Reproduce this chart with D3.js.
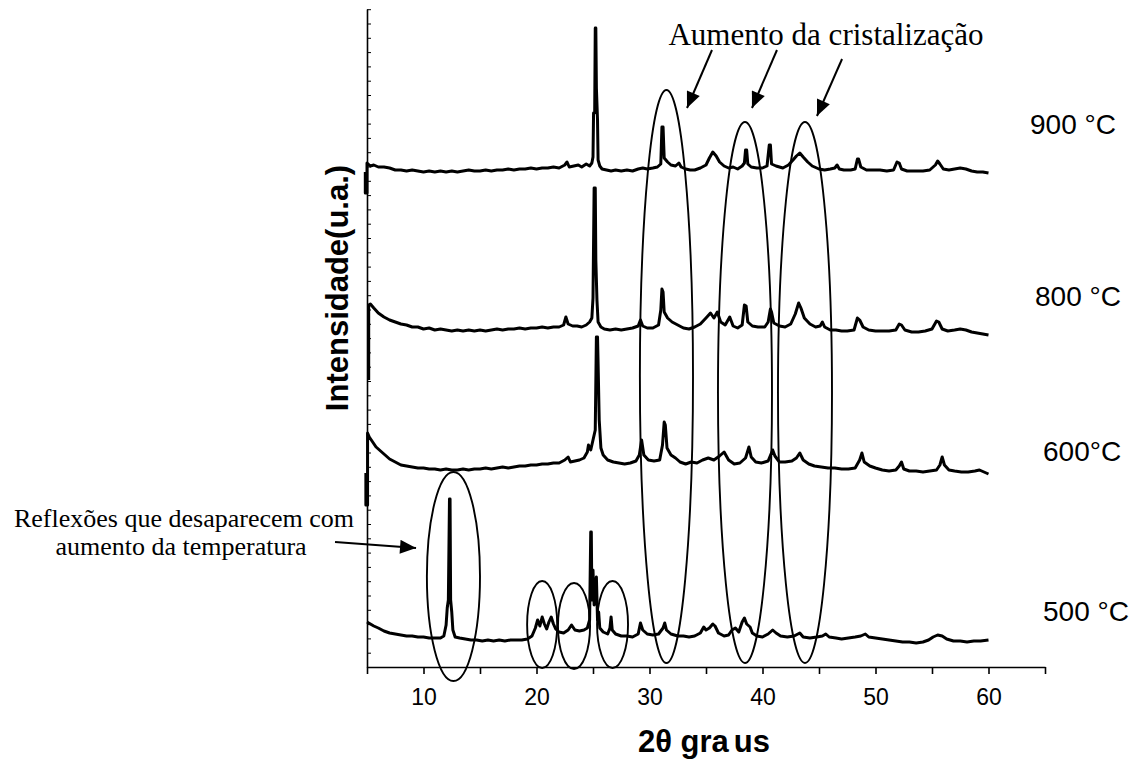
<!DOCTYPE html>
<html>
<head>
<meta charset="utf-8">
<script src="https://cdn.jsdelivr.net/npm/d3@7"></script>
<style>
  body { margin: 0; background: #fff; }
  svg { display: block; }
</style>
</head>
<body>
<svg width="1137" height="760"></svg>
<script>
// 2θ (graus) vs intensidade (u.a.), one array per temperature
var xrd500 = [[5.0,450],[5.3,430],[5.6,410],[6.0,390],[6.5,360],[7.0,340],[7.5,330],[8.0,320],[8.5,310],[9,310],[9.5,300],[10,300],[10.5,290],[11,290],[11.5,290],[11.8,310],[12.0,420],[12.1,590],[12.2,670],[12.3,1680],[12.35,1680],[12.4,670],[12.5,550],[12.6,370],[12.8,300],[13.2,290],[13.7,280],[14.2,270],[14.7,270],[15.2,260],[15.7,270],[16.2,260],[16.7,270],[17.2,260],[17.7,270],[18.2,270],[18.7,270],[19.2,280],[19.6,310],[19.9,390],[20.1,470],[20.3,410],[20.5,500],[20.7,430],[20.9,380],[21.1,450],[21.3,500],[21.5,430],[21.7,380],[22.0,350],[22.4,340],[22.8,370],[23.1,420],[23.4,370],[23.8,360],[24.2,370],[24.5,390],[24.7,470],[24.8,1350],[24.85,1350],[24.9,670],[25.0,970],[25.1,620],[25.2,820],[25.3,900],[25.4,470],[25.5,550],[25.6,390],[25.9,350],[26.3,330],[26.5,390],[26.6,500],[26.7,370],[27.0,330],[27.5,310],[28,310],[28.5,300],[29.0,330],[29.2,440],[29.4,370],[29.8,330],[30.3,320],[30.8,330],[31.2,390],[31.35,440],[31.5,370],[31.9,330],[32.5,310],[33,310],[33.5,300],[34,310],[34.5,340],[34.8,400],[35.0,370],[35.3,390],[35.6,430],[35.8,410],[36.1,340],[36.6,310],[37.0,320],[37.3,370],[37.6,390],[37.9,350],[38.2,450],[38.4,490],[38.6,430],[38.9,400],[39.1,340],[39.5,310],[40,300],[40.5,330],[40.9,370],[41.2,340],[41.6,310],[42.2,300],[42.8,310],[43.3,340],[43.6,300],[44.2,290],[44.8,300],[45.3,310],[45.6,330],[45.9,300],[46.5,290],[47,280],[47.6,290],[48.2,300],[48.7,310],[49.1,330],[49.4,300],[50,290],[50.6,280],[51.2,270],[51.8,260],[52.4,250],[53,250],[53.6,240],[54.2,250],[54.7,270],[55.1,300],[55.5,320],[55.9,310],[56.3,280],[56.9,260],[57.5,260],[58.1,250],[58.7,260],[59.3,260],[60,270]];

var xrd600 = [[4.9,340],[4.9,20],[5.05,20],[5.05,740],[5.2,700],[5.5,650],[5.8,600],[6.2,560],[6.6,520],[7.0,480],[7.5,450],[8.0,420],[8.5,410],[9,400],[9.5,390],[10,390],[10.5,380],[11,380],[11.5,370],[12,380],[12.5,370],[13,370],[13.5,380],[14,370],[14.5,380],[15,380],[15.5,390],[16,380],[16.5,390],[17,400],[17.5,390],[18,400],[18.5,410],[19,410],[19.5,420],[20,420],[20.5,430],[21,430],[21.5,440],[22,440],[22.5,470],[22.8,500],[23.0,450],[23.4,460],[23.8,470],[24.2,490],[24.5,550],[24.6,620],[24.8,570],[25.0,670],[25.2,770],[25.3,1700],[25.4,1700],[25.45,1440],[25.55,870],[25.7,590],[25.9,520],[26.3,470],[26.8,450],[27.3,440],[27.8,430],[28.3,440],[28.8,460],[29.1,520],[29.3,670],[29.5,520],[29.9,470],[30.4,460],[30.9,470],[31.15,620],[31.3,850],[31.4,820],[31.55,590],[31.9,520],[32.3,490],[32.7,450],[33.2,430],[33.7,450],[34.2,440],[34.7,470],[35.2,490],[35.7,470],[36.2,510],[36.6,550],[37.0,470],[37.5,430],[38.0,440],[38.5,490],[38.8,600],[39.0,500],[39.4,450],[39.9,440],[40.5,460],[40.9,570],[41.1,510],[41.5,450],[42.0,450],[42.6,460],[43.0,490],[43.3,540],[43.6,470],[44.1,430],[44.6,410],[45.2,400],[45.8,390],[46.4,390],[47,380],[47.6,380],[48.2,390],[48.6,470],[48.8,540],[49.0,450],[49.5,410],[50,390],[50.6,370],[51.2,360],[51.8,370],[52.1,410],[52.3,450],[52.5,380],[53,360],[53.6,360],[54.2,350],[54.8,360],[55.4,370],[55.7,420],[55.9,500],[56.1,420],[56.5,370],[57,360],[57.6,350],[58.2,350],[58.8,360],[59.2,370],[59.6,350],[60,330]];

var xrd800 = [[5.15,-130],[5.15,620],[5.3,630],[5.6,590],[6.0,540],[6.5,500],[7.0,470],[7.5,450],[8.0,430],[8.5,420],[9,400],[9.5,400],[10,380],[10.5,390],[11,370],[11.5,380],[12,370],[12.5,360],[13,370],[13.5,360],[14,370],[14.5,360],[15,370],[15.5,360],[16,370],[16.5,380],[17,370],[17.5,380],[18,380],[18.5,390],[19,380],[19.5,390],[20,390],[20.5,400],[21,390],[21.5,400],[22,400],[22.4,420],[22.6,500],[22.8,430],[23.2,410],[23.6,410],[24,400],[24.4,420],[24.7,450],[24.9,490],[25.0,690],[25.1,1790],[25.2,1790],[25.25,1070],[25.35,670],[25.45,450],[25.7,400],[26,380],[26.5,370],[27,380],[27.5,370],[28,380],[28.5,390],[29,410],[29.2,470],[29.4,410],[29.8,390],[30.3,390],[30.8,420],[31.0,570],[31.1,780],[31.2,750],[31.3,550],[31.6,490],[32,450],[32.5,420],[33,390],[33.5,380],[34,400],[34.5,430],[35.0,490],[35.4,540],[35.7,490],[36.0,550],[36.3,450],[36.7,420],[37.1,500],[37.4,410],[37.8,390],[38.2,420],[38.4,620],[38.55,610],[38.7,450],[39.1,410],[39.6,400],[40.2,400],[40.5,450],[40.7,580],[40.8,550],[41.0,440],[41.5,410],[42,400],[42.5,430],[42.9,530],[43.2,640],[43.4,590],[43.7,490],[44.2,430],[44.7,400],[45.1,410],[45.3,450],[45.5,400],[46,370],[46.5,370],[47,360],[47.5,360],[48.1,370],[48.4,490],[48.6,470],[48.9,400],[49.4,370],[50,360],[50.6,360],[51.2,360],[51.8,370],[52.1,430],[52.3,420],[52.6,370],[53.2,350],[53.8,350],[54.4,360],[55.0,380],[55.4,460],[55.6,450],[55.9,380],[56.4,360],[57,370],[57.5,380],[58,370],[58.5,350],[59,340],[59.5,330],[60,320]];

var xrd900 = [[4.85,450],[4.85,240],[5.0,240],[5.0,540],[5.3,510],[5.6,520],[6.0,500],[6.5,500],[7.0,490],[7.5,470],[8.0,470],[8.5,460],[9,470],[9.5,460],[10,450],[10.5,460],[11,450],[11.5,460],[12,450],[12.5,460],[13,450],[13.5,460],[14,470],[14.5,460],[15,460],[15.5,470],[16,460],[16.5,470],[17,470],[17.5,480],[18,470],[18.5,480],[19,480],[19.5,490],[20,480],[20.5,490],[21,490],[21.5,500],[22,490],[22.5,520],[22.7,550],[22.9,500],[23.3,510],[23.7,520],[24.0,500],[24.4,530],[24.7,510],[24.9,540],[25.0,600],[25.05,1040],[25.15,1040],[25.2,1890],[25.25,1890],[25.3,1290],[25.4,970],[25.45,570],[25.6,510],[25.8,480],[26.2,470],[26.6,460],[27,470],[27.5,460],[28,470],[28.5,460],[29,480],[29.4,490],[29.8,480],[30.3,490],[30.7,500],[31.0,530],[31.1,900],[31.2,900],[31.3,590],[31.6,550],[31.9,520],[32.3,510],[32.6,540],[32.8,500],[33.2,480],[33.6,470],[34,470],[34.5,490],[35,520],[35.3,590],[35.6,650],[35.9,610],[36.2,550],[36.6,510],[37,490],[37.4,500],[37.8,480],[38.2,510],[38.4,540],[38.5,670],[38.6,670],[38.7,530],[39.0,500],[39.5,490],[40,490],[40.4,510],[40.6,720],[40.7,720],[40.8,530],[41.2,510],[41.8,490],[42.3,520],[42.7,570],[43.0,610],[43.3,640],[43.6,600],[44.0,550],[44.4,510],[45,480],[45.5,470],[46,480],[46.4,490],[46.6,520],[46.8,480],[47.2,470],[47.8,470],[48.2,480],[48.4,580],[48.5,580],[48.7,500],[49.2,470],[49.8,470],[50.4,470],[51,460],[51.6,470],[51.9,550],[52.1,540],[52.3,480],[52.8,460],[53.5,460],[54.2,460],[54.8,470],[55.3,520],[55.5,560],[55.7,530],[56,480],[56.5,470],[57,480],[57.5,490],[58,480],[58.5,460],[59,450],[59.5,450],[60,440]];

var temperatures = ['500 °C', '600°C', '800 °C', '900 °C'];
var offsets = [0, 1600, 3000, 4500];
var xTicks = [5, 10, 15, 20, 25, 30, 35, 40, 45, 50, 55, 60, 65];
var xTickLabels = [10, 20, 30, 40, 50, 60];

// ellipses round the peaks: centre 2θ, centre intensity, radius in 2θ, radius in intensity
var rings = [
  [12.65, 905, 2.35, 1045],
  [20.5, 425, 1.33, 435],
  [23.32, 410, 1.42, 430],
  [26.73, 425, 1.37, 435],
  [31.5, 2905, 2.35, 2865],
  [38.45, 2745, 2.39, 2705],
  [43.76, 2745, 2.39, 2705]
];
// arrows: from (2θ, I) to (2θ, I)
var arrows = [
  [35.53, 6170, 33.32, 5590],
  [41.28, 6170, 39.07, 5590],
  [47.04, 6080, 44.82, 5510],
  [2.17, 1250, 9.34, 1190]
];

var svg = d3.select('svg');

var x = d3.scaleLinear().domain([5, 65]).range([367, 1045]);
var y = d3.scaleLinear().domain([0, 6580]).range([667, 9]);

// axes
var xAxis = d3.axisBottom(x)
  .tickValues(xTicks)
  .tickSize(7)
  .tickSizeOuter(0)
  .tickFormat(function(d) { return xTickLabels.indexOf(d) >= 0 ? d : ''; });

var gx = svg.append('g')
  .attr('transform', 'translate(0,' + y(0) + ')')
  .call(xAxis);
gx.selectAll('path, line').attr('stroke', '#000').attr('stroke-width', 1.6);
gx.selectAll('text')
  .attr('fill', '#000')
  .attr('dy', '1.2em')
  .style('font-family', '"Liberation Sans", Arial, sans-serif')
  .style('font-size', '23px');

var gy = svg.append('g')
  .attr('transform', 'translate(' + x(5) + ',0)')
  .call(d3.axisLeft(y).tickValues(d3.range(0, 6581, 143)).tickSize(-4).tickSizeOuter(0).tickFormat(''));
gy.selectAll('path').attr('stroke', '#000').attr('stroke-width', 1.6);
gy.selectAll('line').attr('stroke', '#000').attr('stroke-width', 1);

// traces
var line = d3.line()
  .x(function(d) { return x(d[0]); })
  .y(function(d) { return y(d[1] + d[2]); });

[xrd500, xrd600, xrd800, xrd900].forEach(function(series, i) {
  svg.append('path')
    .datum(series.map(function(p) { return [p[0], p[1], offsets[i]]; }))
    .attr('d', line)
    .attr('fill', 'none')
    .attr('stroke', '#000')
    .attr('stroke-width', 3)
    .attr('stroke-linejoin', 'round');
});

// ellipses
svg.selectAll('ellipse')
  .data(rings)
  .enter()
  .append('ellipse')
  .attr('cx', function(d) { return x(d[0]); })
  .attr('cy', function(d) { return y(d[1]); })
  .attr('rx', function(d) { return x(d[0] + d[2]) - x(d[0]); })
  .attr('ry', function(d) { return y(0) - y(d[3]); })
  .attr('fill', 'none')
  .attr('stroke', '#000')
  .attr('stroke-width', 1.9);

// arrows
svg.append('defs').append('marker')
  .attr('id', 'head')
  .attr('viewBox', '0 0 16 14')
  .attr('refX', 16)
  .attr('refY', 7)
  .attr('markerWidth', 17)
  .attr('markerHeight', 14)
  .attr('markerUnits', 'userSpaceOnUse')
  .attr('orient', 'auto')
  .append('path')
  .attr('d', 'M0,0L16,7L0,14Z')
  .attr('fill', '#000');

svg.selectAll('.arrow')
  .data(arrows)
  .enter()
  .append('line')
  .attr('class', 'arrow')
  .attr('x1', function(d) { return x(d[0]); })
  .attr('y1', function(d) { return y(d[1]); })
  .attr('x2', function(d) { return x(d[2]); })
  .attr('y2', function(d) { return y(d[3]); })
  .attr('stroke', '#000')
  .attr('stroke-width', 2)
  .attr('marker-end', 'url(#head)');

// temperature labels
var labelPos = [[1043, 621], [1043, 461], [1035, 306], [1030, 134]];
svg.selectAll('.temp')
  .data(temperatures)
  .enter()
  .append('text')
  .attr('class', 'temp')
  .attr('x', function(d, i) { return labelPos[i][0]; })
  .attr('y', function(d, i) { return labelPos[i][1]; })
  .style('font-family', '"Liberation Sans", Arial, sans-serif')
  .style('font-size', '28px')
  .text(function(d) { return d; });

// annotations
var serif = '"Liberation Serif", "Times New Roman", serif';
svg.append('text')
  .attr('x', 826).attr('y', 45)
  .attr('text-anchor', 'middle')
  .style('font-family', serif).style('font-size', '31px')
  .text('Aumento da cristalização');

svg.append('text')
  .attr('x', 184).attr('y', 527)
  .attr('text-anchor', 'middle')
  .style('font-family', serif).style('font-size', '26px')
  .text('Reflexões que desaparecem com');
svg.append('text')
  .attr('x', 181).attr('y', 555)
  .attr('text-anchor', 'middle')
  .style('font-family', serif).style('font-size', '26px')
  .text('aumento da temperatura');

// axis titles
var xt = svg.append('text')
  .attr('x', 704).attr('y', 752)
  .attr('text-anchor', 'middle')
  .style('font-family', '"Liberation Sans", Arial, sans-serif')
  .style('font-weight', 'bold').style('font-size', '31px');
xt.append('tspan').text('2θ gra');
xt.append('tspan').attr('dx', 5).text('us');

svg.append('text')
  .attr('transform', 'translate(348,288) rotate(-90)')
  .attr('text-anchor', 'middle')
  .style('font-family', '"Liberation Sans", Arial, sans-serif')
  .style('font-weight', 'bold').style('font-size', '31px')
  .text('Intensidade(u.a.)');
</script>
</body>
</html>
